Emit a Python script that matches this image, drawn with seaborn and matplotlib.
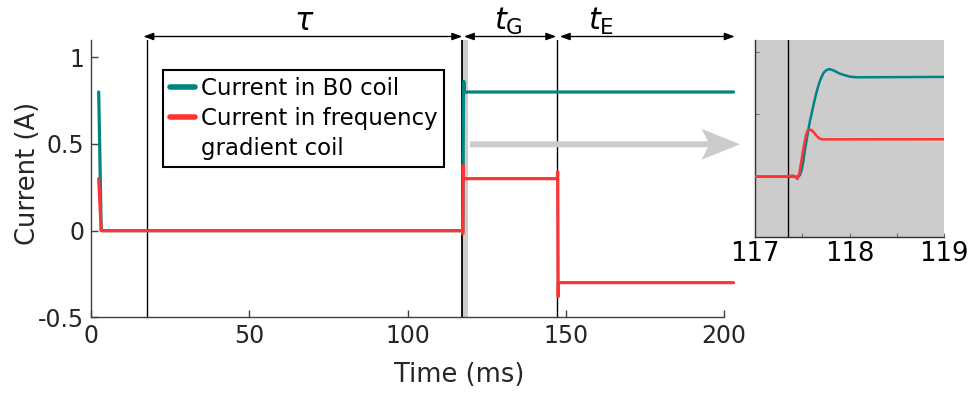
import matplotlib
matplotlib.use("Agg")
import matplotlib.pyplot as plt
from matplotlib.lines import Line2D
from matplotlib.patches import Polygon
import seaborn as sns
import pandas as pd

# ---------------- data ----------------
# B0 coil current (A) vs time (ms)
b0_t_start = [2.4, 3.2, 117.0, 117.459]
b0_i_start = [0.80, 0.0, 0.0, 0.0]
b0_t_rise = [117.476, 117.494, 117.511, 117.529, 117.547, 117.564, 117.582,
             117.600, 117.617, 117.635, 117.653, 117.670, 117.688, 117.706,
             117.723, 117.741, 117.758, 117.776, 117.794, 117.829, 117.864,
             117.899, 117.952, 118.005, 118.076, 119.0]
b0_i_rise = [0.013, 0.053, 0.120, 0.214, 0.294, 0.374, 0.449,
             0.508, 0.567, 0.628, 0.682, 0.727, 0.770, 0.802,
             0.829, 0.845, 0.855, 0.861, 0.861, 0.853, 0.839,
             0.826, 0.813, 0.802, 0.797, 0.80]
b0_t_end = [203.0]
b0_i_end = [0.80]

# frequency gradient coil current (A) vs time (ms)
gr_t_start = [2.4, 3.2, 117.0, 117.335, 117.370, 117.406, 117.423]
gr_i_start = [0.30, 0.0, 0.0, 0.0, 0.005, 0.008, 0.0]
gr_t_rise = [117.448, 117.469, 117.487, 117.504, 117.522, 117.540, 117.557,
             117.582, 117.600, 117.624, 117.653, 117.681, 117.706, 119.0]
gr_i_rise = [-0.019, 0.027, 0.107, 0.187, 0.267, 0.334, 0.369,
             0.377, 0.374, 0.353, 0.326, 0.307, 0.299, 0.30]
gr_t_switch = [147.3, 147.45, 147.6, 147.7, 203.0]
gr_i_switch = [0.30, 0.34, -0.38, -0.30, -0.30]

# event markers (ms)
t_tau_start = 17.6
t_grad_on = 117.3
t_grad_switch = 147.3
t_end = 203.4

labels_legend = ["Current in B0 coil", "Current in frequency", "gradient coil"]
xticks_main = [0, 50, 100, 150, 200]
yticks_main = [-0.5, 0, 0.5, 1]
yticklabels_main = ["-0.5", "0", "0.5", "1"]
xticks_inset = [117, 118, 119]

TEAL = "#008582"
RED = "#ff3333"

b0 = pd.DataFrame({"t": b0_t_start + b0_t_rise + b0_t_end,
                   "i": b0_i_start + b0_i_rise + b0_i_end})
gr = pd.DataFrame({"t": gr_t_start + gr_t_rise + gr_t_switch,
                   "i": gr_i_start + gr_i_rise + gr_i_switch})

sns.set_style("ticks")
plt.rcParams["font.family"] = ["DejaVu Sans"]
plt.rcParams["mathtext.fontset"] = "dejavusans"

W, H = 969, 394
fig = plt.figure(figsize=(W / 100, H / 100), dpi=100)

# ---------------- main axes ----------------
axL, axR, axT, axB = 91.1, 724.0, 40.0, 317.3
ax = fig.add_axes([axL / W, 1 - axB / H, (axR - axL) / W, (axB - axT) / H])

ax.axvspan(t_grad_on, t_grad_on + 1.9, color="#cccccc", lw=0, zorder=1)
for tv, lw in [(t_tau_start, 1.0), (t_grad_on, 1.3), (t_grad_switch, 1.0)]:
    ax.axvline(tv, color="black", lw=lw, zorder=2)

sns.lineplot(data=b0, x="t", y="i", sort=False, estimator=None, color=TEAL,
             lw=2.3, ax=ax, legend=False, zorder=3)
sns.lineplot(data=gr, x="t", y="i", sort=False, estimator=None, color=RED,
             lw=2.3, ax=ax, legend=False, zorder=4)
for ln in ax.get_lines()[3:]:
    ln.set_clip_on(False)

ax.set_xlim(0, 200)
ax.set_ylim(-0.5, 1.1)
ax.set_xticks(xticks_main)
ax.set_yticks(yticks_main)
ax.set_yticklabels(yticklabels_main)
for s in ["top", "right"]:
    ax.spines[s].set_visible(False)
for s in ["left", "bottom"]:
    ax.spines[s].set_color("#404040")
    ax.spines[s].set_linewidth(1.0)
ax.tick_params(direction="in", length=5, width=1, color="#404040",
               labelsize=17, labelcolor="#262626")
ax.tick_params(axis="y", pad=5)
ax.tick_params(axis="x", pad=5)
ax.set_xlabel("Time (ms)", fontsize=18.5, color="#262626")
ax.set_ylabel("Current (A)", fontsize=18.5, color="#262626")
ax.xaxis.set_label_coords((459 - axL) / (axR - axL), -0.16)
ax.yaxis.set_label_coords((41 - axL) / (axR - axL), 0.517)

handles = [Line2D([], [], color=TEAL, lw=4),
           Line2D([], [], color=RED, lw=4),
           Line2D([], [], color="none", lw=4)]
leg = ax.legend(handles, labels_legend, loc="upper left",
                bbox_to_anchor=((163 - axL) / (axR - axL), 1 - (70 - axT) / (axB - axT)),
                borderaxespad=0, fontsize=16.5, handlelength=1.1, handletextpad=0.25,
                labelspacing=0.31, borderpad=0.3, fancybox=False, framealpha=1,
                edgecolor="black")
leg.get_frame().set_linewidth(1.5)
for txt in leg.get_texts():
    txt.set_color("black")

# top double arrows and labels
yarr = 1 + (axT - 36.5) / (axB - axT)
arrow_kw = dict(arrowstyle="<|-|>,head_length=0.6,head_width=0.22", color="black",
                lw=1.0, shrinkA=0, shrinkB=0)
for a, b in [(16.5, t_grad_on), (t_grad_on + 0.5, t_grad_switch - 0.3),
             (t_grad_switch + 0.8, t_end)]:
    ax.annotate("", xy=(b, yarr), xytext=(a, yarr),
                xycoords=("data", "axes fraction"), textcoords=("data", "axes fraction"),
                arrowprops=arrow_kw, annotation_clip=False)
ylab = 1 + (axT - 21) / (axB - axT)
for xp, s in [(67.5, r"$\tau$"), (132.0, r"$t_{\mathrm{G}}$"), (161.0, r"$t_{\mathrm{E}}$")]:
    ax.text(xp, ylab, s, transform=ax.get_xaxis_transform(), ha="center", va="center",
            fontsize=22, color="black", clip_on=False)

# big grey arrow (swept head) towards the zoom panel, in figure pixels
yc = H - 144.3
arrow_px = [(470, yc + 3), (708, yc + 3), (701.5, yc + 15.5), (740, yc),
            (701.5, yc - 15.5), (708, yc - 3), (470, yc - 3)]
fig.add_artist(Polygon([(x / W, y / H) for x, y in arrow_px], closed=True,
                       transform=fig.transFigure, facecolor="#cccccc",
                       edgecolor="none"))

# ---------------- inset (zoom) ----------------
iL, iR, iT, iB = 755.0, 944.0, 40.0, 237.0
ax2 = fig.add_axes([iL / W, 1 - iB / H, (iR - iL) / W, (iB - iT) / H])
ax2.set_facecolor("#cccccc")
ax2.axvline(117.35, color="black", lw=1.0, zorder=2)
sns.lineplot(data=b0, x="t", y="i", sort=False, estimator=None, color=TEAL,
             lw=1.8, ax=ax2, legend=False, zorder=3)
sns.lineplot(data=gr, x="t", y="i", sort=False, estimator=None, color=RED,
             lw=1.8, ax=ax2, legend=False, zorder=4)
ax2.set_xlim(117, 119)
ax2.set_ylim(-0.484, 1.096)
ax2.set_xticks(xticks_inset)
ax2.set_xticks([117.5, 118.5], minor=True)
ax2.set_yticks([0.5, 1.0])
ax2.set_yticklabels([])
ax2.set_xlabel("")
ax2.set_ylabel("")
for s in ["top", "right"]:
    ax2.spines[s].set_visible(False)
for s in ["left", "bottom"]:
    ax2.spines[s].set_color("#303030")
    ax2.spines[s].set_linewidth(1.0)
ax2.tick_params(direction="in", length=3, width=0.8, color="#707070",
                labelsize=18.5, labelcolor="black", pad=3)
ax2.tick_params(which="minor", direction="in", length=3, width=0.8, color="#707070")

fig.savefig("out.png", dpi=100)
